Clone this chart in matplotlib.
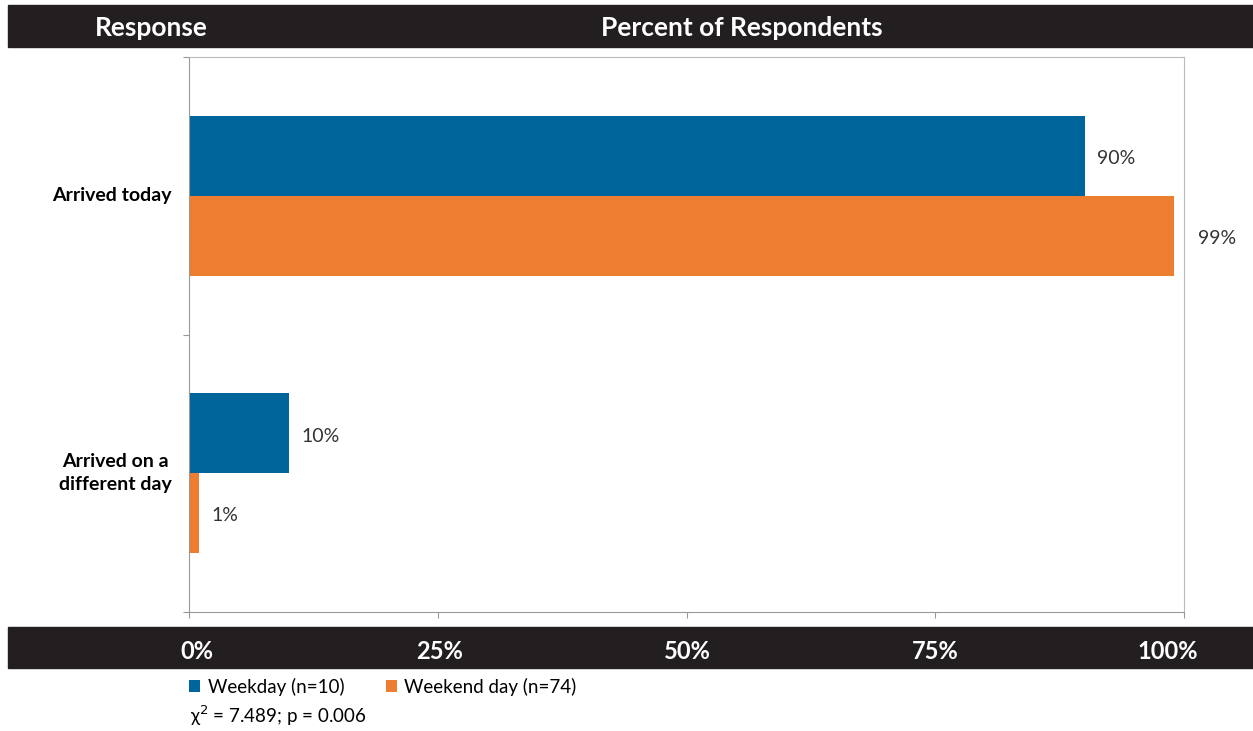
import numpy as np
import matplotlib.pyplot as plt
from matplotlib.patches import Rectangle
from matplotlib.transforms import ScaledTranslation

plt.rcParams['font.family'] = ['Lato', 'DejaVu Sans']

categories = ['Arrived today', 'Arrived on a\ndifferent day']
weekday = [90, 10]
weekend = [99, 1]
series_names = ['Weekday (n=10)', 'Weekend day (n=74)']
xticks = [0, 25, 50, 75, 100]
xticklabels = ['0%', '25%', '50%', '75%', '100%']
stat_text = '\u03c7$^2$ = 7.489; p = 0.006'

blue = '#00659A'
orange = '#ED7D31'
band = '#231F20'

fig = plt.figure(figsize=(12.53, 7.31), dpi=100)
ax = fig.add_axes([189/1253, 1-612/731, 995/1253, 555/731])

y = np.arange(len(categories))
h = 0.288
b1 = ax.barh(y - h/2, weekday, height=h, color=blue, label=series_names[0])
b2 = ax.barh(y + h/2, weekend, height=h, color=orange, label=series_names[1])

for bars, vals in [(b1, weekday), (b2, weekend)]:
    for bar, v in zip(bars, vals):
        off = 24 if v > 95 else 13
        ax.annotate(f'{v}%', (v, bar.get_y() + bar.get_height()/2),
                    xytext=(off * 0.72, -2), textcoords='offset points',
                    va='center', ha='left', fontsize=14, color='#333333',
                    annotation_clip=False)

ax.set_xlim(0, 100)
ax.set_ylim(1.5, -0.5)
ax.set_xticks(xticks)
ax.set_xticklabels(xticklabels, color='white', fontsize=17, fontweight='bold')
ax.tick_params(axis='x', length=4, color='#999999', pad=16)
# nudge the end labels inward like the original
shifts = [0.08, 0.02, 0.01, 0.0, -0.16]
for lab, dx in zip(ax.get_xticklabels(), shifts):
    lab.set_transform(lab.get_transform() + ScaledTranslation(dx, 0, fig.dpi_scale_trans))
ax.set_yticks([-0.5, 0.5, 1.5])
ax.set_yticklabels([])
ax.tick_params(axis='y', length=4, color='#999999')
for s in ax.spines.values():
    s.set_color('#BBBBBB')
ax.spines['left'].set_color('#999999')
ax.spines['bottom'].set_color('#999999')

for yi, c in zip(y, categories):
    ax.text(-1.7, yi, c, ha='right', va='center', fontsize=14,
            fontweight='bold', color='black', multialignment='center',
            linespacing=1.4)

# header and axis bands
fig.patches.append(Rectangle((8/1253, 1-47/731), 1245/1253, 42/731,
                             transform=fig.transFigure, color=band, zorder=-1))
fig.patches.append(Rectangle((8/1253, 1-668/731), 1245/1253, 41/731,
                             transform=fig.transFigure, color=band, zorder=-1))
fig.text(151/1253, 1-28/731, 'Response', color='white', fontsize=19,
         fontweight='bold', ha='center', va='center')
fig.text(742/1253, 1-28/731, 'Percent of Respondents', color='white',
         fontsize=19, fontweight='bold', ha='center', va='center')

fig.legend(handles=[b1, b2], loc='center left', bbox_to_anchor=(172/1253, 1-687/731),
           ncol=2, frameon=False, fontsize=13.5, handlelength=0.6, handleheight=0.6,
           handletextpad=0.4, columnspacing=2.2)
fig.text(190/1253, 1-716/731, stat_text, fontsize=13.5, ha='left', va='center')

fig.savefig('out.png', dpi=100)
